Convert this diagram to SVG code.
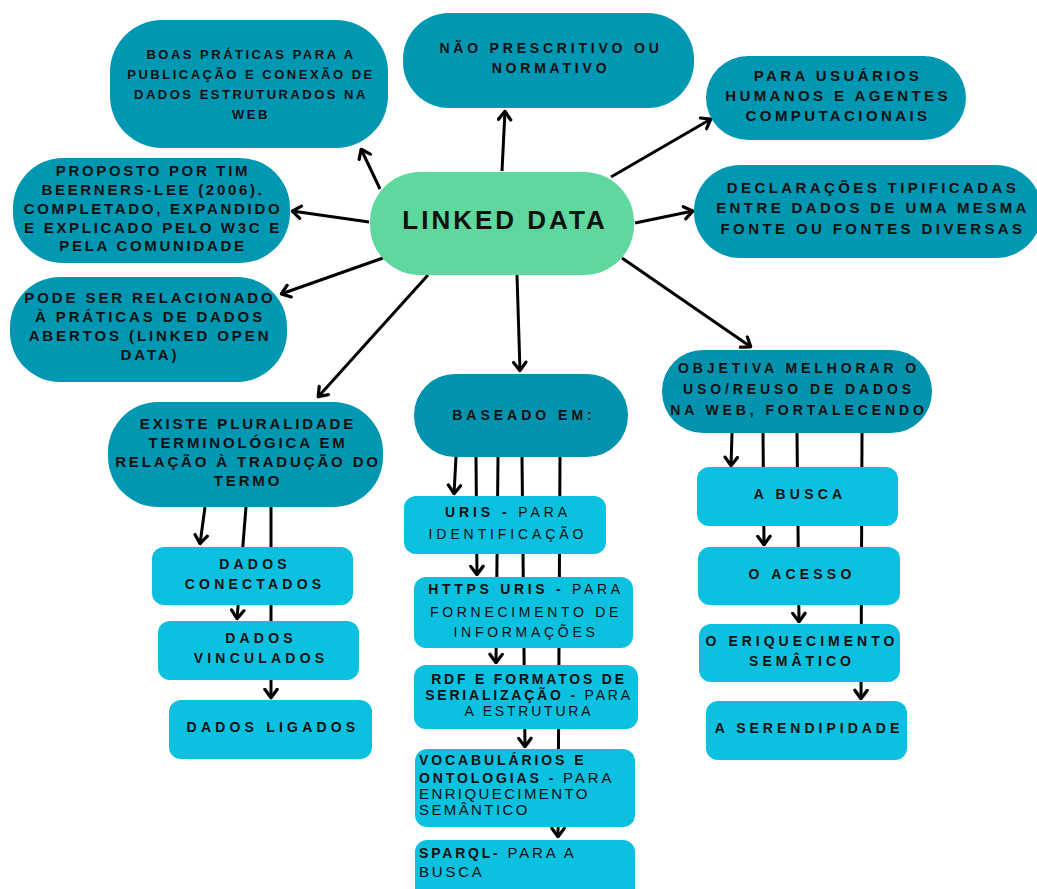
<svg xmlns="http://www.w3.org/2000/svg" width="1037" height="889" viewBox="0 0 1037 889">
<style>
.dk{fill:#0097b2}
.dk2{fill:#0493ae}
.gr{fill:#5ed89c}
.lt{fill:#0cc0df}
text{font-family:"Liberation Sans",Arial,sans-serif;fill:#111;font-weight:bold;text-anchor:middle}
.l{text-anchor:start}
.r{font-weight:normal}
#conn line{stroke:#000;stroke-width:3;marker-end:url(#ah)}
</style>
<defs>
<marker id="ah" viewBox="0 0 12 16" refX="10.5" refY="8" markerWidth="12" markerHeight="16" markerUnits="userSpaceOnUse" orient="auto">
<path d="M1.8,1.8 L10.2,8 L1.8,14.2" fill="none" stroke="#000" stroke-width="3.2" stroke-linecap="round" stroke-linejoin="round"/>
</marker>
</defs>
<rect width="1037" height="889" fill="#fff"/>
<g id="conn">
<line x1="380" y1="189" x2="361" y2="149"/>
<line x1="369" y1="222" x2="292" y2="211"/>
<line x1="383" y1="258" x2="281" y2="294"/>
<line x1="428" y1="275" x2="318" y2="397"/>
<line x1="502" y1="171" x2="505" y2="111"/>
<line x1="611" y1="177" x2="711" y2="119"/>
<line x1="635" y1="223" x2="693" y2="211"/>
<line x1="517" y1="275" x2="520" y2="371"/>
<line x1="622" y1="258" x2="751" y2="347"/>
<line x1="205" y1="507" x2="200" y2="544"/>
<line x1="246" y1="507" x2="237" y2="619"/>
<line x1="271" y1="507" x2="271" y2="698"/>
<line x1="456" y1="457" x2="454" y2="494"/>
<line x1="476" y1="457" x2="477" y2="575"/>
<line x1="498" y1="457" x2="496" y2="663"/>
<line x1="522" y1="457" x2="525" y2="747"/>
<line x1="560" y1="457" x2="558" y2="837"/>
<line x1="732" y1="433" x2="731" y2="466"/>
<line x1="763" y1="433" x2="764" y2="545"/>
<line x1="797" y1="433" x2="799" y2="622"/>
<line x1="862" y1="433" x2="861" y2="699"/>
</g>
<g id="n-boas" font-size="13" letter-spacing="2.5">
<rect class="dk" x="110" y="20" width="278" height="128" rx="52"/>
<text x="251" y="59">BOAS PRÁTICAS PARA A</text>
<text x="251" y="79">PUBLICAÇÃO E CONEXÃO DE</text>
<text x="251" y="99">DADOS ESTRUTURADOS NA</text>
<text x="251" y="119">WEB</text>
</g>
<g id="n-proposto" font-size="15" letter-spacing="2.7">
<rect class="dk" x="13" y="158" width="277" height="105" rx="50"/>
<text x="153" y="176">PROPOSTO POR TIM</text>
<text x="153" y="195">BEERNERS-LEE (2006).</text>
<text x="153" y="214">COMPLETADO, EXPANDIDO</text>
<text x="153" y="233">E EXPLICADO PELO W3C E</text>
<text x="153" y="251">PELA COMUNIDADE</text>
</g>
<g id="n-pode" font-size="15" letter-spacing="2.9">
<rect class="dk" x="10" y="277" width="277" height="105" rx="50"/>
<text x="150" y="303">PODE SER RELACIONADO</text>
<text x="150" y="322">À PRÁTICAS DE DADOS</text>
<text x="150" y="341">ABERTOS (LINKED OPEN</text>
<text x="150" y="360">DATA)</text>
</g>
<g id="n-existe" font-size="15" letter-spacing="2.85">
<rect class="dk" x="108" y="402" width="275" height="105" rx="50"/>
<text x="248" y="429">EXISTE PLURALIDADE</text>
<text x="248" y="448">TERMINOLÓGICA EM</text>
<text x="248" y="467">RELAÇÃO À TRADUÇÃO DO</text>
<text x="248" y="486">TERMO</text>
</g>
<g id="n-nao" font-size="14" letter-spacing="3.8">
<rect class="dk" x="403" y="13" width="291" height="95" rx="46"/>
<text x="551" y="53">NÃO PRESCRITIVO OU</text>
<text x="551" y="73">NORMATIVO</text>
</g>
<g id="n-usuarios" font-size="15" letter-spacing="3.4">
<rect class="dk" x="706" y="56" width="260" height="84" rx="42"/>
<text x="838" y="81">PARA USUÁRIOS</text>
<text x="838" y="101">HUMANOS E AGENTES</text>
<text x="838" y="121">COMPUTACIONAIS</text>
</g>
<g id="n-declaracoes" font-size="15" letter-spacing="3.4">
<rect class="dk" x="694" y="165" width="348" height="93" rx="46"/>
<text x="873" y="193">DECLARAÇÕES TIPIFICADAS</text>
<text x="873" y="213">ENTRE DADOS DE UMA MESMA</text>
<text x="873" y="234">FONTE OU FONTES DIVERSAS</text>
</g>
<g id="n-linked">
<rect class="gr" x="370" y="172" width="264" height="103" rx="50"/>
<text x="505" y="229" font-size="26" letter-spacing="3">LINKED DATA</text>
</g>
<g id="n-baseado" font-size="14" letter-spacing="4">
<rect class="dk2" x="414" y="374" width="214" height="83" rx="41"/>
<text x="524" y="420">BASEADO EM:</text>
</g>
<g id="n-objetiva" font-size="14" letter-spacing="3.9">
<rect class="dk2" x="662" y="350" width="270" height="83" rx="41"/>
<text x="799" y="373">OBJETIVA MELHORAR O</text>
<text x="799" y="394">USO/REUSO DE DADOS</text>
<text x="799" y="415">NA WEB, FORTALECENDO</text>
</g>
<g id="n-busca" font-size="14" letter-spacing="4.2">
<rect class="lt" x="697" y="467" width="201" height="59" rx="12"/>
<text x="800" y="499">A BUSCA</text>
</g>
<g id="n-acesso" font-size="14" letter-spacing="4.2">
<rect class="lt" x="698" y="547" width="202" height="58" rx="12"/>
<text x="802" y="579">O ACESSO</text>
</g>
<g id="n-enriq" font-size="14" letter-spacing="4">
<rect class="lt" x="699" y="624" width="201" height="58" rx="12"/>
<text x="802" y="646">O ERIQUECIMENTO</text>
<text x="802" y="666">SEMÂTICO</text>
</g>
<g id="n-serend" font-size="14" letter-spacing="4">
<rect class="lt" x="706" y="701" width="201" height="59" rx="12"/>
<text x="809" y="733">A SERENDIPIDADE</text>
</g>
<g id="n-conectados" font-size="14" letter-spacing="4.2">
<rect class="lt" x="152" y="547" width="201" height="58" rx="12"/>
<text x="255" y="569">DADOS</text>
<text x="255" y="589">CONECTADOS</text>
</g>
<g id="n-vinculados" font-size="14" letter-spacing="4.2">
<rect class="lt" x="158" y="621" width="201" height="59" rx="12"/>
<text x="261" y="643">DADOS</text>
<text x="261" y="663">VINCULADOS</text>
</g>
<g id="n-ligados" font-size="14" letter-spacing="4.2">
<rect class="lt" x="169" y="700" width="203" height="59" rx="12"/>
<text x="273" y="732">DADOS LIGADOS</text>
</g>
<g id="n-uris" font-size="14" letter-spacing="3.9">
<rect class="lt" x="404" y="496" width="202" height="58" rx="12"/>
<text x="508" y="517">URIS - <tspan class="r">PARA</tspan></text>
<text x="508" y="539" class="r">IDENTIFICAÇÃO</text>
</g>
<g id="n-https" font-size="14" letter-spacing="3.7">
<rect class="lt" x="414" y="577" width="219" height="71" rx="12"/>
<text x="526" y="594">HTTPS URIS - <tspan class="r">PARA</tspan></text>
<text x="526" y="617" class="r">FORNECIMENTO DE</text>
<text x="526" y="637" class="r">INFORMAÇÕES</text>
</g>
<g id="n-rdf" font-size="14" letter-spacing="2.8">
<rect class="lt" x="414" y="665" width="224" height="64" rx="12"/>
<text x="529" y="684">RDF E FORMATOS DE</text>
<text x="529" y="700">SERIALIZAÇÃO - <tspan class="r">PARA</tspan></text>
<text x="529" y="716" class="r">A ESTRUTURA</text>
</g>
<g id="n-vocab" font-size="14" letter-spacing="2.9">
<rect class="lt" x="415" y="749" width="220" height="78" rx="12"/>
<text class="l" x="419" y="765">VOCABULÁRIOS E</text>
<text class="l" x="419" y="783">ONTOLOGIAS - <tspan class="r" font-size="15">PARA</tspan></text>
<text class="l r" x="419" y="799" font-size="15" letter-spacing="2.4">ENRIQUECIMENTO</text>
<text class="l r" x="419" y="815" font-size="15" letter-spacing="2.4">SEMÂNTICO</text>
</g>
<g id="n-sparql" font-size="14" letter-spacing="2.8">
<rect class="lt" x="415" y="840" width="220" height="62" rx="12"/>
<text class="l" x="419" y="858">SPARQL-<tspan class="r" font-size="15"> PARA A</tspan></text>
<text class="l r" x="419" y="877" font-size="15">BUSCA</text>
</g>
</svg>
